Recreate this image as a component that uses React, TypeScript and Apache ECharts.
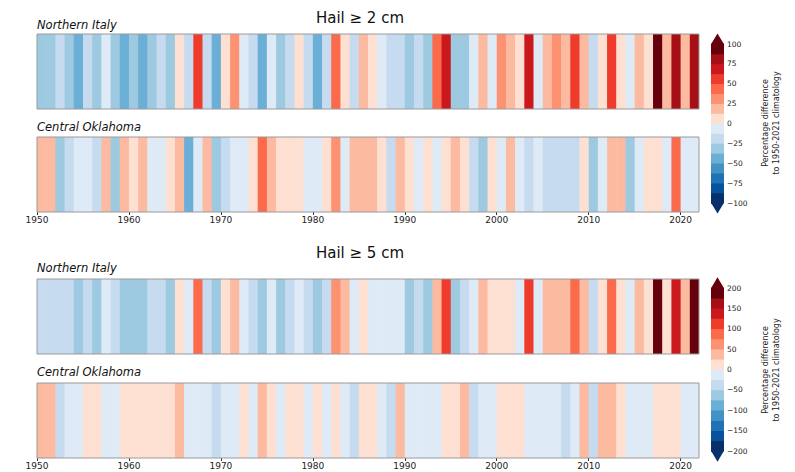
import React, { useEffect, useRef } from "react";
import * as echarts from "echarts";

const FIRST_YEAR = 1950;
const YEAR_COUNT = 72;
const YEARS = Array.from({ length: YEAR_COUNT }, (_, i) => FIRST_YEAR + i);
const TICK_YEARS = [1950, 1960, 1970, 1980, 1990, 2000, 2010, 2020];

const STRIPE_COLORS = [
  "#08306b", "#08519c", "#2171b5", "#4292c6", "#6baed6", "#9ecae1", "#c6dbef", "#deebf7",
  "#fee0d2", "#fcbba1", "#fc9272", "#fb6a4a", "#ef3b2c", "#cb181d", "#a50f15", "#67000d",
];

// Hail >= 2 cm, percentage difference to 1950-2021 climatology
const ITALY_2CM = [
  -31, -31, -19, -31, -44, -19, -31, -6, -31, -44,
  -31, -44, -31, -19, -31, 6, -19, 56, -19, -44,
  6, 31, -6, -19, -44, -6, -31, -19, 6, -19,
  -44, -19, 44, 6, -19, 19, 6, -6, -19, -19,
  -31, -19, -31, 44, 69, -31, -31, -6, 19, -6,
  31, 19, 6, 69, -6, 19, 31, 19, 56, 19,
  -19, 6, 56, 6, -6, 19, 6, 94, 19, 81,
  19, 81,
];
const OKLAHOMA_2CM = [
  19, 19, -31, -19, -6, -6, -19, 19, -31, 19,
  6, 19, -6, -6, 6, 19, -44, -6, 19, -31,
  -19, -6, -6, 6, 44, 19, 6, 6, 6, -6,
  -6, 6, 31, -6, 19, 19, 19, 6, -19, 19,
  6, -6, 6, -6, 6, 19, 6, -19, -31, 6,
  -6, 19, -6, -19, -6, -19, -19, -19, -19, 6,
  -31, -6, 19, 19, -31, -6, 6, 6, -6, 44,
  -6, -6,
];
// Hail >= 5 cm
const ITALY_5CM = [
  -38, -38, -38, -38, -62, -38, -62, -12, -38, -62,
  -62, -62, -38, -38, -62, 12, -12, 88, -38, -62,
  12, 38, -12, -38, -62, -12, -62, -38, -12, -38,
  -62, -38, 62, 38, -12, 12, -12, -12, -12, -12,
  -62, -38, -62, 38, 112, -62, -38, -12, 38, 12,
  12, 12, -12, 112, -12, 38, 38, 38, 88, 38,
  -38, 12, 88, 12, -12, 38, 12, 188, 12, 138,
  38, 188,
];
const OKLAHOMA_5CM = [
  38, 38, -38, -12, -12, 12, 12, -12, -12, 12,
  12, 12, 12, 12, 12, 38, -12, -12, -12, -38,
  -12, -12, 12, -12, 38, 12, -12, 12, 12, -12,
  12, -12, 12, -12, -38, 12, 12, -12, -38, 38,
  -12, -12, -12, -12, 12, 12, 38, -38, -12, -12,
  12, 12, 12, -12, -12, -12, -12, -38, -12, 38,
  -38, 38, 38, 12, -12, -12, -12, 12, 12, 12,
  -12, -12,
];

const TITLES = ["Hail ≥ 2 cm", "Hail ≥ 5 cm"];
const REGIONS = ["Northern Italy", "Central Oklahoma"];
const LIMITS = [100, 200];
const CBAR_LABEL = "Percentage difference\nto 1950-2021 climatology";

function colorFor(v: number, limit: number) {
  const step = (2 * limit) / STRIPE_COLORS.length;
  let i = Math.floor((v + limit) / step);
  if (i < 0) i = 0;
  if (i > STRIPE_COLORS.length - 1) i = STRIPE_COLORS.length - 1;
  return STRIPE_COLORS[i];
}

const PANEL_LEFT = 37;
const PANEL_WIDTH = 662;
const PANEL_HEIGHT = 75;

export default function App() {
  const ref = useRef<HTMLDivElement>(null);
  useEffect(() => {
    if (!ref.current) return;
    const chart = echarts.init(ref.current, undefined, { renderer: "svg" });

    const panels = [
      { data: ITALY_2CM, limit: LIMITS[0], top: 34, labels: false },
      { data: OKLAHOMA_2CM, limit: LIMITS[0], top: 137, labels: true },
      { data: ITALY_5CM, limit: LIMITS[1], top: 279, labels: false },
      { data: OKLAHOMA_5CM, limit: LIMITS[1], top: 383, labels: true },
    ];
    const cbars = [
      { limit: LIMITS[0], top: 44, height: 159 },
      { limit: LIMITS[1], top: 288, height: 163 },
    ];

    const grid: any[] = [];
    const xAxis: any[] = [];
    const yAxis: any[] = [];
    const series: any[] = [];

    panels.forEach((p, k) => {
      grid.push({ left: PANEL_LEFT, top: p.top, width: PANEL_WIDTH, height: PANEL_HEIGHT, show: false });
      xAxis.push({
        type: "value", gridIndex: k, min: FIRST_YEAR, max: FIRST_YEAR + YEAR_COUNT, interval: 10,
        axisLine: { show: false },
        splitLine: { show: false },
        axisTick: { show: p.labels, length: 3, lineStyle: { color: "#333" }, customValues: TICK_YEARS },
        axisLabel: {
          show: p.labels, fontSize: 9, color: "#222", margin: 3, fontFamily: "DejaVu Sans",
          customValues: TICK_YEARS,
          formatter: (v: number) => String(v),
        },
      });
      yAxis.push({ type: "value", gridIndex: k, min: 0, max: 1, show: false });
      const limit = p.limit;
      series.push({
        type: "custom", xAxisIndex: k, yAxisIndex: k, clip: true,
        data: p.data.map((v, i) => [YEARS[i], v]),
        renderItem: (params: any, api: any) => {
          const yr = api.value(0);
          const v = api.value(1);
          const a = api.coord([yr, 1]);
          const b = api.coord([yr + 1, 0]);
          const c = colorFor(v, limit);
          return {
            type: "rect",
            shape: { x: a[0], y: a[1], width: b[0] - a[0] + 0.6, height: b[1] - a[1] },
            style: { fill: c },
          };
        },
        z: 2,
      });
      series.push({
        type: "custom", xAxisIndex: k, yAxisIndex: k, clip: false, silent: true,
        data: [[0]],
        renderItem: (params: any, api: any) => {
          const a = api.coord([FIRST_YEAR, 1]);
          const b = api.coord([FIRST_YEAR + YEAR_COUNT, 0]);
          return {
            type: "rect",
            shape: { x: a[0], y: a[1], width: b[0] - a[0], height: b[1] - a[1] },
            style: { fill: "none", stroke: "#9a9a9a", lineWidth: 1 },
          };
        },
        z: 5,
      });
    });

    cbars.forEach((cb, j) => {
      const gi = panels.length + j;
      grid.push({ left: 711, top: cb.top, width: 13, height: cb.height, show: false });
      xAxis.push({ type: "value", gridIndex: gi, min: 0, max: 1, show: false });
      yAxis.push({
        type: "value", gridIndex: gi, min: -cb.limit, max: cb.limit, interval: cb.limit / 4,
        position: "right",
        axisLine: { show: false },
        splitLine: { show: false },
        axisTick: { show: true, length: 3, lineStyle: { color: "#333", width: 0.8 } },
        axisLabel: {
          fontSize: 7.5, color: "#222", margin: 3, fontFamily: "DejaVu Sans",
          formatter: (v: number) => String(v).replace("-", "\u2212"),
        },
      });
      const limit = cb.limit;
      const n = STRIPE_COLORS.length;
      const step = (2 * limit) / n;
      series.push({
        type: "custom", xAxisIndex: gi, yAxisIndex: gi, clip: false, silent: true,
        data: STRIPE_COLORS.map((_, i) => [i]),
        renderItem: (params: any, api: any) => {
          const i = api.value(0);
          const lo = -limit + i * step;
          const hi = lo + step;
          const a = api.coord([0, hi]);
          const b = api.coord([1, lo]);
          const children: any[] = [
            {
              type: "rect",
              shape: { x: a[0], y: a[1] - 0.3, width: b[0] - a[0], height: b[1] - a[1] + 0.6 },
              style: { fill: STRIPE_COLORS[i] },
            },
          ];
          if (i === n - 1) {
            const t = api.coord([0.5, limit + step * 1.05]);
            children.push({
              type: "polygon",
              shape: { points: [[a[0], a[1] + 0.3], [b[0], a[1] + 0.3], [t[0], t[1]]] },
              style: { fill: STRIPE_COLORS[i] },
            });
          }
          if (i === 0) {
            const t = api.coord([0.5, -limit - step * 1.05]);
            children.push({
              type: "polygon",
              shape: { points: [[a[0], b[1] - 0.3], [b[0], b[1] - 0.3], [t[0], t[1]]] },
              style: { fill: STRIPE_COLORS[i] },
            });
          }
          return { type: "group", children };
        },
        z: 2,
      });
    });

    const italicFont = "italic 11.5px 'DejaVu Sans'";
    const titleFont = "15px 'DejaVu Sans'";
    const graphic: any[] = [
      { type: "text", x: 360, y: 18, style: { text: TITLES[0], font: titleFont, fill: "#111", textAlign: "center", textVerticalAlign: "middle" } },
      { type: "text", x: 360, y: 253, style: { text: TITLES[1], font: titleFont, fill: "#111", textAlign: "center", textVerticalAlign: "middle" } },
      { type: "text", x: 37, y: 25, style: { text: REGIONS[0], font: italicFont, fill: "#111", textAlign: "left", textVerticalAlign: "middle" } },
      { type: "text", x: 37, y: 127, style: { text: REGIONS[1], font: italicFont, fill: "#111", textAlign: "left", textVerticalAlign: "middle" } },
      { type: "text", x: 37, y: 268, style: { text: REGIONS[0], font: italicFont, fill: "#111", textAlign: "left", textVerticalAlign: "middle" } },
      { type: "text", x: 37, y: 372, style: { text: REGIONS[1], font: italicFont, fill: "#111", textAlign: "left", textVerticalAlign: "middle" } },
      { type: "text", x: 771, y: 123, rotation: Math.PI / 2, style: { text: CBAR_LABEL, font: "8px 'DejaVu Sans'", lineHeight: 11, fill: "#222", textAlign: "center", textVerticalAlign: "middle" } },
      { type: "text", x: 771, y: 370, rotation: Math.PI / 2, style: { text: CBAR_LABEL, font: "8px 'DejaVu Sans'", lineHeight: 11, fill: "#222", textAlign: "center", textVerticalAlign: "middle" } },
    ];

    chart.setOption({
      animation: false,
      backgroundColor: "#ffffff",
      grid, xAxis, yAxis, series, graphic,
    });
    return () => chart.dispose();
  }, []);
  return <div ref={ref} style={{ position: "fixed", left: 0, top: 0, width: 795, height: 472 }} />;
}
